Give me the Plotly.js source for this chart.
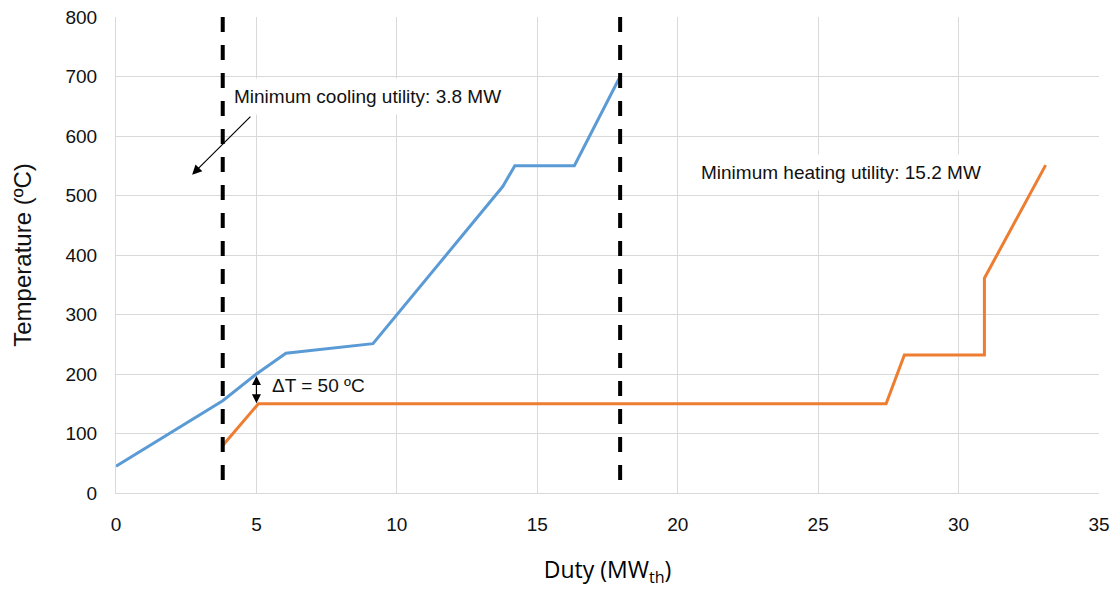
<!DOCTYPE html>
<html>
<head>
<meta charset="utf-8">
<script src="https://cdn.plot.ly/plotly-3.0.1.min.js"></script>
<style>html,body{margin:0;padding:0;background:#fff;}#chart{width:1119px;height:592px;}</style>
</head>
<body>
<div id="chart"></div>
<script>
// Hot composite curve
var hotDuty = [0, 3.8, 5.0, 6.05, 9.15, 13.77, 14.2, 16.32, 17.95];
var hotTemp = [45, 155, 200, 235, 251, 515, 550, 550, 700];
// Cold composite curve
var coldDuty = [3.8, 5.07, 27.42, 28.07, 30.92, 30.92, 33.1];
var coldTemp = [80, 150, 150, 232, 232, 361, 551];
// Utility boundaries
var utilityX = [3.8, 17.95];
var xTicks = [0, 5, 10, 15, 20, 25, 30, 35];
var yTicks = [0, 100, 200, 300, 400, 500, 600, 700, 800];
var coolingLabel = 'Minimum cooling utility: 3.8 MW';
var heatingLabel = 'Minimum heating utility: 15.2 MW';
var deltaLabel = '\u0394T = 50 \u00baC';

var FONT = 'Liberation Sans, Arial, sans-serif';

var traces = [
  {x: hotDuty, y: hotTemp, mode: 'lines', line: {color: '#5B9BD5', width: 3}, name: 'Hot', hoverinfo: 'x+y'},
  {x: coldDuty, y: coldTemp, mode: 'lines', line: {color: '#ED7D31', width: 3}, name: 'Cold', hoverinfo: 'x+y'}
];

var shapes = utilityX.map(function (ux) {
  return {type: 'line', xref: 'x', yref: 'y', x0: ux, x1: ux, y0: 800, y1: 0,
          line: {color: '#000', width: 4, dash: '15px,13px'}, layer: 'above'};
});

var annotations = [
  {x: 3.93, y: 667, xref: 'x', yref: 'y', xanchor: 'left', yanchor: 'middle', text: coolingLabel,
   showarrow: false, bgcolor: '#fff', borderpad: 7, font: {family: FONT, size: 19, color: '#111'}},
  {x: 2.71, y: 535, ax: 4.84, ay: 635, xref: 'x', yref: 'y', axref: 'x', ayref: 'y', text: '',
   showarrow: true, arrowhead: 2, arrowsize: 1.6, arrowwidth: 1.2, arrowcolor: '#000'},
  {x: 20.55, y: 539, xref: 'x', yref: 'y', xanchor: 'left', yanchor: 'middle', text: heatingLabel,
   showarrow: false, bgcolor: '#fff', borderpad: 7, font: {family: FONT, size: 19, color: '#111'}},
  {x: 5.5, y: 181, xref: 'x', yref: 'y', xanchor: 'left', yanchor: 'middle', text: deltaLabel,
   showarrow: false, font: {family: FONT, size: 19, color: '#111'}},
  {x: 5.0, y: 151, ax: 5.0, ay: 199, xref: 'x', yref: 'y', axref: 'x', ayref: 'y', text: '',
   showarrow: true, arrowhead: 2, arrowside: 'end+start', arrowsize: 1.5, arrowwidth: 1.2, arrowcolor: '#000'}
];

var layout = {
  width: 1119, height: 592,
  margin: {l: 116, r: 20, t: 17, b: 99},
  paper_bgcolor: '#fff', plot_bgcolor: '#fff',
  showlegend: false,
  font: {family: FONT, color: '#000'},
  xaxis: {
    range: [0, 35], tickvals: xTicks, ticktext: xTicks.map(String),
    showgrid: true, gridcolor: '#d9d9d9', gridwidth: 1,
    showline: true, linecolor: '#d9d9d9', linewidth: 1, mirror: false,
    zeroline: false, ticks: '', ticklabelstandoff: 14,
    tickfont: {family: FONT, size: 19, color: '#111'},
    title: {text: 'Duty (MW<sub>th</sub>)', font: {family: 'Open Sans, sans-serif', size: 23, color: '#000'}, standoff: 28}
  },
  yaxis: {
    range: [0, 800], tickvals: yTicks, ticktext: yTicks.map(String),
    showgrid: true, gridcolor: '#d9d9d9', gridwidth: 1,
    showline: true, linecolor: '#d9d9d9', linewidth: 1,
    zeroline: false, ticks: '', ticklabelstandoff: 14,
    tickfont: {family: FONT, size: 19, color: '#111'},
    title: {text: 'Temperature (\u00baC)', font: {family: FONT, size: 24, color: '#111'}, standoff: 27}
  },
  shapes: shapes,
  annotations: annotations
};

Plotly.newPlot('chart', traces, layout, {displayModeBar: false, staticPlot: true});
</script>
</body>
</html>
